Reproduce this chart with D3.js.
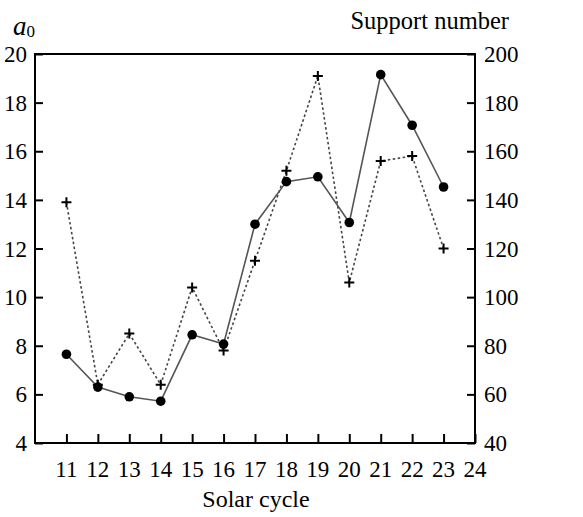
<!DOCTYPE html>
<html><head><meta charset="utf-8">
<script src="https://cdn.jsdelivr.net/npm/d3@7"></script>
<style>body{margin:0;background:#fff}svg{display:block}text{font-family:"Liberation Serif","Times New Roman",serif;fill:#000}</style>
</head><body>
<svg id="c" width="583" height="517"></svg>
<script>
const cycles = [11,12,13,14,15,16,17,18,19,20,21,22,23];
const a0Values = [7.65,6.3,5.9,5.72,8.45,8.07,13.0,14.75,14.95,13.07,19.15,17.07,14.53];
const supportValues = [139,64,85,64,104,78,115,152,191,106,156,158,120];
const xTicks = [11,12,13,14,15,16,17,18,19,20,21,22,23,24];
const leftTicks = [4,6,8,10,12,14,16,18,20];
const rightTicks = [40,60,80,100,120,140,160,180,200];

const svg = d3.select("#c");
const L=35,R=475,T=54,B=443;
const x = d3.scaleLinear().domain([10,24]).range([L,R]);
const yL = d3.scaleLinear().domain([4,20]).range([B,T]);
const yR = d3.scaleLinear().domain([40,200]).range([B,T]);

// frame
svg.append("rect").attr("x",L).attr("y",T).attr("width",R-L).attr("height",B-T)
  .attr("fill","none").attr("stroke","#000").attr("stroke-width",2);

const fs = 23;
// left axis
const gl = svg.append("g").attr("transform",`translate(${L},0)`)
  .call(d3.axisRight(yL).tickValues(leftTicks).tickSize(8).tickFormat(""));
gl.select(".domain").remove();
gl.selectAll("line").attr("stroke-width",2);
svg.selectAll(".ll").data(leftTicks).join("text").attr("class","ll")
  .attr("x",L-8).attr("y",d=>yL(d)+8).attr("text-anchor","end").attr("font-size",fs).text(d=>d);

// right axis
const gr = svg.append("g").attr("transform",`translate(${R},0)`)
  .call(d3.axisLeft(yR).tickValues(rightTicks).tickSize(8).tickFormat(""));
gr.select(".domain").remove();
gr.selectAll("line").attr("stroke-width",2);
svg.selectAll(".rl").data(rightTicks).join("text").attr("class","rl")
  .attr("x",R+9).attr("y",d=>yR(d)+8).attr("text-anchor","start").attr("font-size",fs).text(d=>d);

// bottom axis
const gb = svg.append("g").attr("transform",`translate(0,${B})`)
  .call(d3.axisTop(x).tickValues(xTicks).tickSize(9).tickFormat(""));
gb.select(".domain").remove();
gb.selectAll("line").attr("stroke-width",2);
svg.selectAll(".bl").data(xTicks).join("text").attr("class","bl")
  .attr("x",d=>x(d)).attr("y",B+34).attr("text-anchor","middle").attr("font-size",fs).text(d=>d);

// titles
const a = svg.append("text").attr("x",13).attr("y",35).attr("font-size",27);
a.append("tspan").attr("font-style","italic").text("a");
a.append("tspan").attr("font-size",17).attr("dy",2).text("0");
svg.append("text").attr("x",509).attr("y",29).attr("text-anchor","end").attr("font-size",24.5).text("Support number");
svg.append("text").attr("x",256).attr("y",507).attr("text-anchor","middle").attr("font-size",24).text("Solar cycle");

// support dotted line
const sData = cycles.map((c,i)=>[c,supportValues[i]]);
svg.append("path").datum(sData)
  .attr("d",d3.line().x(d=>x(d[0])).y(d=>yR(d[1])))
  .attr("fill","none").attr("stroke","#444").attr("stroke-width",1.6).attr("stroke-dasharray","2.5,2.5");
svg.selectAll(".plus").data(sData).join("path").attr("class","plus")
  .attr("transform",d=>`translate(${x(d[0])},${yR(d[1])})`)
  .attr("d","M-5,0H5M0,-5V5").attr("stroke","#000").attr("stroke-width",2);

// a0 solid line
const aData = cycles.map((c,i)=>[c,a0Values[i]]);
svg.append("path").datum(aData)
  .attr("d",d3.line().x(d=>x(d[0])).y(d=>yL(d[1])))
  .attr("fill","none").attr("stroke","#555").attr("stroke-width",1.6);
svg.selectAll(".dot").data(aData).join("circle").attr("class","dot")
  .attr("cx",d=>x(d[0])).attr("cy",d=>yL(d[1])).attr("r",4.8).attr("fill","#000");
</script>
</body></html>
